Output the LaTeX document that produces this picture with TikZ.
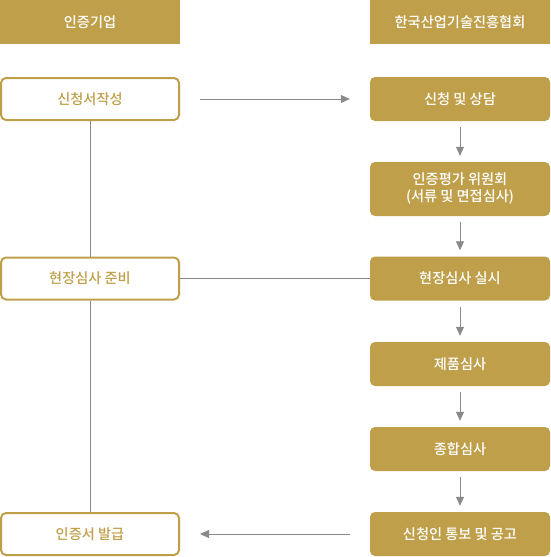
\documentclass[tikz,border=0pt]{standalone}
\usepackage{fontspec}
\setmainfont{Noto Sans CJK KR Medium}
\usetikzlibrary{arrows.meta}
\definecolor{gold}{HTML}{BF9F4A}
\definecolor{linegray}{HTML}{8A8A8A}
\begin{document}
\begin{tikzpicture}[x=1pt, y=-1pt, font=\fontsize{14.2}{17}\selectfont,
  head/.style={fill=gold, text=white, minimum width=180pt, minimum height=44pt, inner sep=0pt},
  openbox/.style={draw=gold, line width=2pt, rounded corners=5pt, fill=white, text=gold,
    minimum width=178pt, minimum height=42pt, inner sep=0pt},
  fullbox/.style={fill=gold, rounded corners=5pt, text=white, align=center,
    minimum width=180pt, minimum height=44pt, inner sep=0pt},
  link/.style={draw=linegray, line width=0.8pt},
  flow/.style={link, -{Triangle[length=9pt, width=8pt]}}]
  \useasboundingbox (0,0) rectangle (550,557);

  % column heads
  \node[head] (firm) at (90,22) {인증기업};
  \node[head] (assoc) at (460,22) {한국산업기술진흥협회};

  % company side
  \node[openbox] (apply) at (90,99) {신청서작성};
  \node[openbox] (prep) at (90,278.5) {현장심사 준비};
  \node[openbox] (issue) at (90,534) {인증서 발급};

  % association side
  \node[fullbox] (consult) at (460,99) {신청 및 상담};
  \node[fullbox, minimum height=54pt] (board) at (460,189) {인증평가 위원회\\(서류 및 면접심사)};
  \node[fullbox] (audit) at (460,278.5) {현장심사 실시};
  \node[fullbox] (product) at (460,364) {제품심사};
  \node[fullbox] (total) at (460,449) {종합심사};
  \node[fullbox] (notice) at (460,534) {신청인 통보 및 공고};

  % left spine
  \draw[link] (apply) -- (prep);
  \draw[link] (prep) -- (issue);

  % across
  \draw[flow, shorten <=20pt, shorten >=20pt] (apply) -- (consult);
  \draw[link] (prep) -- (audit);
  \draw[flow, shorten <=20pt, shorten >=20pt] (notice) -- (issue);

  % right steps
  \foreach \a/\b in {consult/board, board/audit, audit/product, product/total, total/notice}
    \draw[flow, shorten <=6pt, shorten >=6pt] (\a) -- (\b);
\end{tikzpicture}
\end{document}
